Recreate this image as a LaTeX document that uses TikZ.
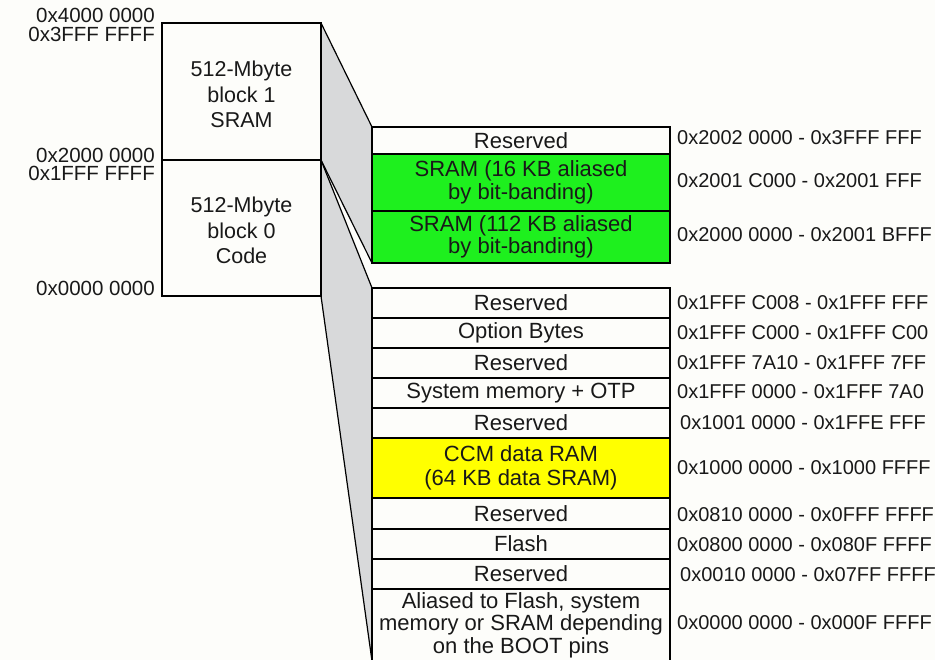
\documentclass[tikz,border=0pt]{standalone}
\usepackage{fontspec}
\setmainfont{Liberation Sans}
\usetikzlibrary{backgrounds}
\definecolor{bg}{RGB}{253,253,250}
\definecolor{fangray}{RGB}{216,217,218}
\definecolor{sgreen}{RGB}{30,240,30}
\definecolor{syellow}{RGB}{255,255,0}
\definecolor{ink}{RGB}{25,25,25}
\tikzset{
  blk/.style={draw=black, line width=2.4pt, fill=bg, anchor=north west, inner sep=0pt, outer sep=0pt, minimum width=159pt},
  row/.style={draw=black, line width=2.4pt, fill=bg, anchor=north west, inner sep=0pt, outer sep=0pt, minimum width=298pt, align=center, font=\fontsize{22}{22.5}\selectfont, text=ink},
  addr/.style={anchor=base west, inner sep=0pt, font=\fontsize{20}{22}\selectfont, text=ink},
  lab/.style={anchor=base east, inner sep=0pt, font=\fontsize{20.5}{22}\selectfont, text=ink},
  btxt/.style={anchor=base, inner sep=0pt, font=\fontsize{21.5}{22}\selectfont, text=ink},
  fanline/.style={draw=black, line width=1.2pt},
}
\begin{document}
\begin{tikzpicture}[x=1pt,y=-1pt]
\useasboundingbox (0,0) rectangle (935,660);
% left blocks
\node[blk, minimum height=137pt] (b1) at (162,23) {};
\node[blk, minimum height=136pt] (b0) at (162,160) {};
\node[btxt] (b1a) at (241.5,77) {512-Mbyte};
\node[btxt] (b1b) at (241.5,102.5) {block 1};
\node[btxt] (b1c) at (241.5,128) {SRAM};
\node[btxt] (b0a) at (241.5,213) {512-Mbyte};
\node[btxt] (b0b) at (241.5,238.5) {block 0};
\node[btxt] (b0c) at (241.5,264) {Code};
% left labels
\node[lab] (l1) at (155,23) {0x4000 0000};
\node[lab] (l2) at (155,41.5) {0x3FFF FFFF};
\node[lab] (l3) at (155,162.5) {0x2000 0000};
\node[lab] (l4) at (155,181) {0x1FFF FFFF};
\node[lab] (l5) at (155,296) {0x0000 0000};
% top group
\node[row, minimum height=27pt] (r1) at (372,127) {Reserved};
\node[row, minimum height=57pt, fill=sgreen] (r2) at (372,154) {SRAM (16 KB aliased\\by bit-banding)};
\node[row, minimum height=52pt, fill=sgreen] (r3) at (372,211) {SRAM (112 KB aliased\\by bit-banding)};
% bottom group
\node[row, minimum height=30pt] (s1) at (372,288) {Reserved};
\node[row, minimum height=30pt] (s2) at (372,318) {Option Bytes};
\node[row, minimum height=30pt] (s3) at (372,348) {Reserved};
\node[row, minimum height=30pt] (s4) at (372,378) {System memory + OTP};
\node[row, minimum height=30pt] (s5) at (372,408) {Reserved};
\node[row, minimum height=60pt, fill=syellow, font=\fontsize{22}{24}\selectfont] (s6) at (372,438) {CCM data RAM\\(64 KB data SRAM)};
\node[row, minimum height=31pt] (s7) at (372,498) {Reserved};
\node[row, minimum height=30pt] (s8) at (372,529) {Flash};
\node[row, minimum height=30pt] (s9) at (372,559) {Reserved};
\node[row, minimum height=72pt] (s10) at (372,589) {Aliased to Flash, system\\memory or SRAM depending\\on the BOOT pins};
% addresses
\node[addr] (a1) at (677,145) {0x2002 0000 - 0x3FFF FFF};
\node[addr] (a2) at (677,188) {0x2001 C000 - 0x2001 FFF};
\node[addr] (a3) at (677,242) {0x2000 0000 - 0x2001 BFFF};
\node[addr] (a4) at (677,310) {0x1FFF C008 - 0x1FFF FFF};
\node[addr] (a5) at (677,340) {0x1FFF C000 - 0x1FFF C00};
\node[addr] (a6) at (677,370) {0x1FFF 7A10 - 0x1FFF 7FF};
\node[addr] (a7) at (677,399) {0x1FFF 0000 - 0x1FFF 7A0};
\node[addr] (a8) at (680,429) {0x1001 0000 - 0x1FFE FFF};
\node[addr] (a9) at (677,475) {0x1000 0000 - 0x1000 FFFF};
\node[addr] (a10) at (677,521) {0x0810 0000 - 0x0FFF FFFF};
\node[addr] (a11) at (677,551) {0x0800 0000 - 0x080F FFFF};
\node[addr] (a12) at (680,581) {0x0010 0000 - 0x07FF FFFF};
\node[addr] (a13) at (677,629) {0x0000 0000 - 0x000F FFFF};
% fans
\begin{scope}[on background layer]
\fill[bg] (0,0) rectangle (935,660);
\fill[fangray] (b1.north east) -- (r1.north west) -- (r3.south west) -- (b1.south east) -- cycle;
\fill[fangray] (b0.north east) -- (s1.north west) -- (s10.south west) -- (b0.south east) -- cycle;
\draw[fanline] (b1.north east) -- (r1.north west);
\draw[fanline] (b1.south east) -- (r3.south west);
\draw[fanline] (b0.north east) -- (s1.north west);
\draw[fanline] (b0.south east) -- (s10.south west);
\end{scope}
\end{tikzpicture}
\end{document}
